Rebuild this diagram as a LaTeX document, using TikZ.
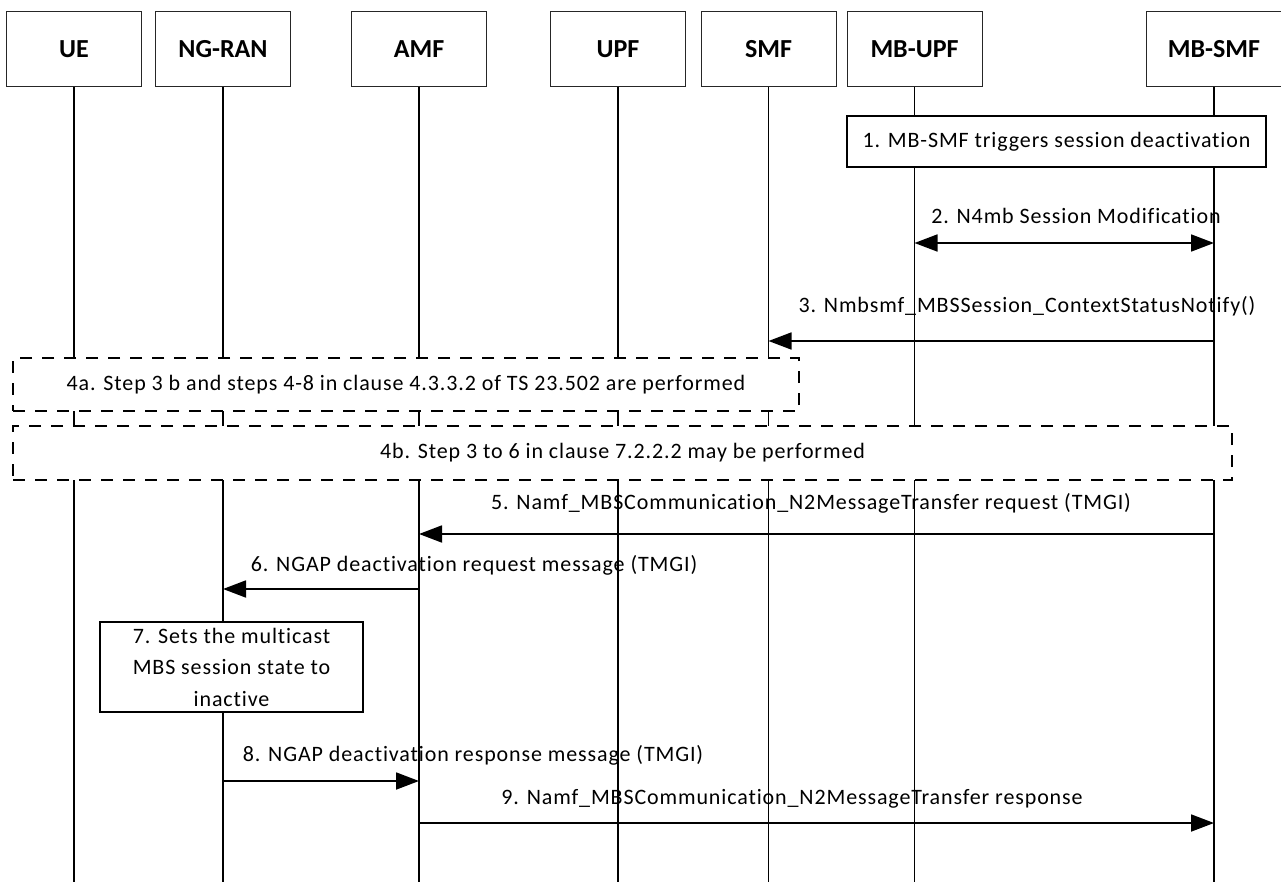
\documentclass[tikz,border=0pt]{standalone}
\usepackage{fontspec}
\setmainfont{Carlito}[LetterSpace=4,Ligatures=NoCommon]
\newfontfamily\hdrfont{Carlito}
\usetikzlibrary{arrows.meta}
\tikzset{
  hdr/.style={draw=black!85, line width=1pt, fill=white, minimum width=135pt, minimum height=75pt, inner sep=0pt,
    font=\hdrfont\fontsize{26}{30}\selectfont\bfseries},
  lifeline/.style={line width=1.8pt},
  stepbox/.style={draw, line width=1.8pt, fill=white, inner sep=0pt, align=center,
    font=\fontsize{22}{31.5}\selectfont},
  optbox/.style={draw, line width=1.8pt, dash pattern=on 12pt off 10pt, fill=white, inner sep=0pt,
    font=\fontsize{22}{26}\selectfont},
  msg/.style={line width=1.8pt, -{Triangle[length=23pt,width=17pt]}},
  dmsg/.style={line width=1.8pt, {Triangle[length=23pt,width=17pt]}-{Triangle[length=23pt,width=17pt]}},
  lbl/.style={inner sep=0pt, font=\fontsize{22}{26}\selectfont}
}
\begin{document}
\begin{tikzpicture}[x=1pt,y=-1pt]
\useasboundingbox[fill=white] (0,0) rectangle (1281,882);
% headers
\node[hdr] (ue)    at (74,49.5)   {UE};
\node[hdr] (ran)   at (223,49.5)  {NG-RAN};
\node[hdr] (amf)   at (419,49.5)  {AMF};
\node[hdr] (upf)   at (618,49.5)  {UPF};
\node[hdr] (smf)   at (768.5,49.5) {SMF};
\node[hdr] (mbupf) at (914.5,49.5) {MB-UPF};
\node[hdr] (mbsmf) at (1214,49.5) {MB-SMF};
% bottom coordinates
\foreach \n in {ue,ran,amf,upf,smf,mbupf,mbsmf}{
  \coordinate (\n-end) at (\n.south |- 0,882);
  \draw[lifeline] (\n.south) -- (\n-end);
}
% step boxes
\node[stepbox, minimum width=419pt, minimum height=51pt] (s1) at (1056.5,141.5) {1. MB-SMF triggers session deactivation};
\node[optbox, minimum width=786pt, minimum height=53pt] (s4a) at (406,384.5) {4a. Step 3 b and steps 4-8 in clause 4.3.3.2 of TS 23.502 are performed};
\node[optbox, minimum width=1219pt, minimum height=54pt] (s4b) at (622.5,453) {4b. Step 3 to 6 in clause 7.2.2.2 may be performed};
\node[stepbox, minimum width=263pt, minimum height=90pt] (s7) at (231.5,667) {7. Sets the multicast\\MBS session state to\\inactive};
% message coordinates
\coordinate (m2a) at (mbupf.south |- 0,243);
\coordinate (m2b) at (mbsmf.south |- 0,243);
\coordinate (m3a) at (mbsmf.south |- 0,341);
\coordinate (m3b) at (smf.south |- 0,341);
\coordinate (m5a) at (mbsmf.south |- 0,534);
\coordinate (m5b) at (amf.south |- 0,534);
\coordinate (m6a) at (amf.south |- 0,589);
\coordinate (m6b) at (ran.south |- 0,589);
\coordinate (m8a) at (ran.south |- 0,781);
\coordinate (m8b) at (amf.south |- 0,781);
\coordinate (m9a) at (amf.south |- 0,823);
\coordinate (m9b) at (mbsmf.south |- 0,823);
\draw[dmsg] (m2a) -- (m2b);
\draw[msg] (m3a) -- (m3b);
\draw[msg] (m5a) -- (m5b);
\draw[msg] (m6a) -- (m6b);
\draw[msg] (m8a) -- (m8b);
\draw[msg] (m9a) -- (m9b);
% labels
\node[lbl] (l2) at (1076,216) {2. N4mb Session Modification};
\node[lbl] (l3) at (1027,306) {3. Nmbsmf\_MBSSession\_ContextStatusNotify()};
\node[lbl] (l5) at (811,503) {5. Namf\_MBSCommunication\_N2MessageTransfer request (TMGI)};
\node[lbl] (l6) at (474,565) {6. NGAP deactivation request message (TMGI)};
\node[lbl] (l8) at (473,755) {8. NGAP deactivation response message (TMGI)};
\node[lbl] (l9) at (792,799) {9. Namf\_MBSCommunication\_N2MessageTransfer response};
\end{tikzpicture}
\end{document}
